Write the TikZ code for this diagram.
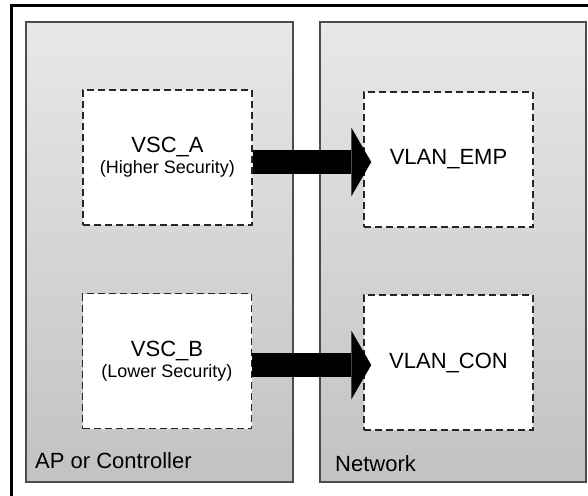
\documentclass[tikz,border=0pt]{standalone}
\usepackage{fontspec}
\setmainfont{Liberation Sans}
\usetikzlibrary{arrows.meta}

\begin{document}
\begin{tikzpicture}[x=1pt,y=-1pt,
  panel/.style={draw=black!70, line width=1.5pt, top color=black!9, bottom color=black!24,
    minimum height=460pt, inner sep=0pt},
  vscbox/.style={draw=black!85, line width=1.5pt, dash pattern=on 7pt off 4pt, fill=white,
    minimum width=169pt, minimum height=135pt, inner sep=0pt, align=center,
    font=\fontsize{22}{21}\selectfont},
  bigarrow/.style={line width=24pt, -{Triangle[length=20pt,width=69pt,line width=0pt]}},
  sub/.style={font=\fontsize{18}{21}\selectfont}]
  \useasboundingbox (0,0) rectangle (588,495);
  \clip (0,0) rectangle (588,495);
  \fill[white] (0,0) rectangle (588,495);
  \draw[line width=3pt] (11.5,5.5) rectangle (620,530);

  \node[panel, minimum width=267pt] (ap) at (159.5,252) {};
  \node[panel, minimum width=266pt] (net) at (453,252) {};
  \node[anchor=base west, font=\fontsize{22}{26}\selectfont, inner sep=0pt] (aplabel) at (35,468) {AP or Controller};
  \node[anchor=base west, font=\fontsize{22}{26}\selectfont, inner sep=0pt] (netlabel) at (335,471) {Network};

  \node[vscbox] (vsca) at (167.5,157.5) {VSC\_A\\{\fontsize{18}{21}\selectfont (Higher Security)}};
  \node[vscbox] (vscb) at (167,361) {VSC\_B\\{\fontsize{18}{21}\selectfont (Lower Security)}};
  \node[vscbox] (vlanemp) at (448.5,159.5) {VLAN\_EMP};
  \node[vscbox] (vlancon) at (448.5,362.5) {VLAN\_CON};

  \draw[bigarrow] ([yshift=-4.5pt]vsca.east) -- ([xshift=8pt,yshift=-2.5pt]vlanemp.west);
  \draw[bigarrow] ([yshift=-4pt]vscb.east) -- ([xshift=8pt,yshift=-2.5pt]vlancon.west);
\end{tikzpicture}
\end{document}
